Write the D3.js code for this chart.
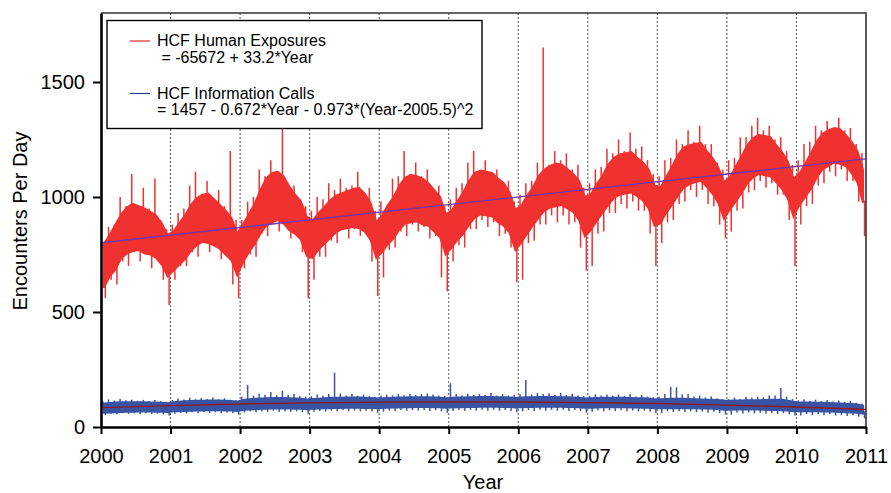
<!DOCTYPE html>
<html>
<head>
<meta charset="utf-8">
<script src="https://cdn.jsdelivr.net/npm/d3@7"></script>
<style>
  body { margin: 0; background: #fff; }
  svg { font-family: "Liberation Sans", Arial, sans-serif; }
</style>
</head>
<body>
<svg id="chart" width="891" height="493"></svg>
<script>
// monthly envelopes, one row per year 2000..2010
var redCoreLo = [
  [605, 655, 685, 735, 755, 765, 770, 755, 750, 735, 705, 655],
  [680, 705, 730, 765, 790, 805, 800, 790, 775, 750, 725, 660],
  [715, 760, 795, 840, 875, 890, 900, 885, 855, 840, 815, 745],
  [735, 770, 795, 820, 845, 860, 865, 870, 865, 850, 815, 735],
  [760, 795, 820, 860, 885, 890, 895, 880, 875, 850, 825, 750],
  [780, 815, 840, 880, 910, 925, 920, 915, 890, 875, 845, 770],
  [800, 840, 875, 910, 940, 955, 960, 965, 950, 935, 900, 830],
  [855, 895, 930, 965, 995, 1010, 1015, 1020, 1005, 985, 950, 875],
  [885, 930, 965, 1005, 1040, 1055, 1065, 1070, 1045, 1015, 975, 905],
  [945, 980, 1015, 1060, 1085, 1100, 1095, 1090, 1065, 1035, 995, 915],
  [965, 1000, 1035, 1085, 1120, 1135, 1150, 1145, 1135, 1105, 1065, 975]
];
var redCoreHi = [
  [795, 835, 880, 925, 955, 970, 960, 950, 935, 920, 885, 835],
  [850, 885, 920, 965, 995, 1010, 1015, 990, 965, 940, 910, 840],
  [880, 925, 970, 1030, 1080, 1105, 1110, 1090, 1045, 1010, 980, 915],
  [895, 930, 955, 985, 1005, 1015, 1025, 1035, 1040, 1015, 975, 890],
  [920, 965, 1000, 1050, 1085, 1095, 1090, 1080, 1060, 1030, 1000, 925],
  [940, 980, 1020, 1070, 1105, 1115, 1110, 1105, 1080, 1060, 1020, 945],
  [960, 1005, 1040, 1090, 1120, 1135, 1145, 1140, 1120, 1100, 1070, 1000],
  [1010, 1055, 1090, 1140, 1170, 1185, 1190, 1195, 1170, 1150, 1120, 1050],
  [1040, 1085, 1130, 1180, 1215, 1225, 1230, 1235, 1200, 1170, 1130, 1065],
  [1085, 1130, 1175, 1225, 1255, 1270, 1265, 1260, 1225, 1195, 1155, 1080],
  [1100, 1145, 1190, 1240, 1275, 1290, 1300, 1295, 1270, 1240, 1200, 1120]
];
var redOuterLo = [
  [560, 640, 620, 720, 700, 760, 720, 750, 690, 730, 640, 530],
  [640, 700, 700, 760, 740, 800, 760, 790, 730, 740, 620, 560],
  [690, 750, 740, 840, 830, 890, 850, 880, 820, 840, 760, 560],
  [640, 740, 740, 810, 800, 860, 820, 860, 830, 840, 720, 570],
  [650, 770, 780, 850, 830, 880, 850, 870, 820, 830, 650, 590],
  [720, 790, 780, 860, 860, 900, 870, 890, 830, 840, 780, 630],
  [640, 800, 810, 880, 880, 920, 890, 920, 880, 890, 780, 680],
  [700, 840, 850, 930, 930, 970, 950, 980, 940, 940, 840, 700],
  [800, 890, 900, 970, 980, 1030, 1000, 1030, 970, 960, 880, 820],
  [850, 940, 950, 1020, 1030, 1070, 1040, 1060, 1010, 1010, 900, 700],
  [880, 960, 970, 1050, 1060, 1110, 1090, 1120, 1070, 1070, 980, 830]
];
var redOuterHi = [
  [790, 870, 880, 1000, 960, 1100, 960, 1040, 950, 1080, 900, 860],
  [880, 930, 950, 1050, 1110, 1000, 1070, 990, 1030, 960, 1200, 900],
  [900, 980, 1000, 1120, 1090, 1160, 1080, 1300, 1060, 1050, 990, 960],
  [940, 1000, 990, 1060, 1030, 1080, 1040, 1050, 1110, 1020, 1040, 940],
  [980, 960, 1080, 1090, 1200, 1100, 1150, 1090, 1120, 1030, 1050, 960],
  [990, 1040, 1060, 1150, 1200, 1110, 1160, 1100, 1120, 1060, 1070, 980],
  [1010, 1060, 1070, 1150, 1650, 1140, 1200, 1160, 1190, 1120, 1140, 1040],
  [1060, 1120, 1130, 1210, 1190, 1250, 1200, 1280, 1210, 1220, 1160, 1100],
  [1090, 1160, 1170, 1250, 1230, 1290, 1240, 1310, 1230, 1230, 1150, 1120],
  [1160, 1170, 1260, 1260, 1310, 1345, 1290, 1310, 1250, 1260, 1200, 1140],
  [1160, 1230, 1240, 1310, 1290, 1330, 1300, 1345, 1290, 1300, 1230, 1190]
];

var blueCoreLo = [
  [62, 63, 64, 65, 66, 66, 67, 67, 67, 66, 66, 65],
  [68, 69, 70, 71, 72, 72, 73, 73, 73, 72, 72, 70],
  [74, 76, 77, 78, 79, 80, 80, 80, 80, 79, 79, 77],
  [79, 80, 81, 82, 83, 83, 84, 84, 84, 83, 83, 82],
  [83, 84, 85, 85, 86, 86, 87, 87, 87, 86, 86, 84],
  [85, 86, 86, 87, 87, 88, 88, 88, 88, 87, 87, 85],
  [86, 87, 87, 88, 88, 88, 88, 88, 87, 87, 86, 84],
  [84, 85, 86, 86, 86, 86, 86, 85, 85, 84, 84, 81],
  [81, 82, 82, 82, 82, 82, 81, 80, 80, 79, 78, 75],
  [75, 76, 76, 76, 76, 76, 75, 74, 74, 73, 72, 69],
  [68, 68, 68, 68, 67, 67, 66, 65, 64, 63, 62, 58]
];
var blueCoreHi = [
  [102, 104, 106, 108, 108, 108, 108, 108, 107, 106, 105, 103],
  [108, 110, 112, 113, 114, 114, 115, 115, 115, 114, 113, 110],
  [118, 121, 123, 124, 125, 126, 126, 126, 125, 124, 123, 120],
  [122, 123, 125, 126, 127, 127, 128, 128, 128, 127, 126, 124],
  [125, 126, 127, 128, 128, 129, 129, 129, 129, 128, 127, 125],
  [127, 128, 128, 129, 129, 130, 130, 130, 129, 129, 128, 126],
  [128, 129, 129, 130, 130, 130, 130, 129, 129, 128, 127, 124],
  [125, 126, 127, 127, 127, 127, 127, 126, 125, 125, 124, 121],
  [121, 122, 123, 123, 123, 122, 121, 120, 119, 118, 117, 114],
  [114, 115, 115, 116, 116, 116, 117, 118, 119, 118, 114, 110],
  [106, 106, 106, 105, 105, 104, 103, 102, 101, 100, 98, 92]
];
var blueOuterLo = [
  [52, 58, 55, 60, 57, 59, 55, 60, 57, 58, 55, 50],
  [58, 62, 59, 64, 60, 65, 61, 64, 60, 63, 60, 54],
  [63, 67, 64, 69, 66, 70, 65, 69, 66, 68, 64, 58],
  [66, 70, 67, 72, 68, 73, 69, 72, 68, 71, 67, 62],
  [66, 72, 69, 74, 70, 74, 71, 74, 70, 73, 68, 62],
  [70, 74, 70, 75, 71, 75, 71, 75, 71, 74, 70, 64],
  [68, 74, 70, 75, 71, 75, 71, 75, 70, 74, 69, 62],
  [66, 72, 69, 73, 69, 73, 69, 72, 68, 71, 66, 60],
  [60, 68, 65, 69, 65, 68, 64, 67, 62, 66, 60, 54],
  [54, 62, 59, 63, 59, 62, 58, 61, 57, 60, 55, 50],
  [50, 56, 52, 56, 51, 55, 50, 53, 48, 51, 45, 38]
];
var blueOuterHi = [
  [112, 120, 115, 122, 116, 119, 114, 118, 113, 117, 112, 110],
  [118, 124, 120, 127, 121, 126, 122, 128, 121, 125, 119, 117],
  [132, 183, 136, 145, 140, 152, 138, 158, 140, 143, 134, 132],
  [134, 141, 136, 144, 236, 145, 137, 145, 136, 141, 134, 132],
  [136, 141, 137, 143, 138, 144, 139, 143, 146, 141, 137, 135],
  [190, 143, 137, 145, 139, 143, 139, 148, 137, 143, 137, 140],
  [142, 204, 141, 148, 143, 147, 139, 148, 139, 145, 137, 135],
  [135, 142, 137, 141, 136, 141, 135, 143, 133, 139, 132, 130],
  [132, 143, 175, 172, 142, 143, 133, 137, 129, 133, 125, 122],
  [121, 128, 122, 131, 127, 131, 129, 137, 137, 170, 132, 122],
  [115, 121, 113, 119, 112, 117, 111, 115, 109, 113, 105, 102]
];

// fitted trend lines
var redTrendYears = [2000, 2011];
var redTrendValues = [801, 1166];
var blueTrendYears = [2000, 2001, 2002, 2003, 2004, 2005, 2006, 2007, 2008, 2009, 2010, 2011];
var blueTrendValues = [84, 93, 100, 105, 108, 109, 109, 106, 102, 95, 87, 76];

var yearTicks = [2000, 2001, 2002, 2003, 2004, 2005, 2006, 2007, 2008, 2009, 2010, 2011];
var countTicks = [0, 500, 1000, 1500];

var legendItems = [
  {color: '#e8282a', name: 'HCF Human Exposures', eq: ' = -65672 + 33.2*Year'},
  {color: '#2e3e8e', name: 'HCF Information Calls', eq: '= 1457 - 0.672*Year - 0.973*(Year-2005.5)^2'}
];

var svg = d3.select('#chart');
var x = d3.scaleLinear().domain([2000, 2011]).range([101, 866]);
var y = d3.scaleLinear().domain([0, 1800]).range([427, 13]);

// dotted year lines
svg.append('g')
  .selectAll('line')
  .data(yearTicks.slice(1, -1))
  .enter()
  .append('line')
  .attr('x1', d => x(d))
  .attr('x2', d => x(d))
  .attr('y1', y(1800))
  .attr('y2', y(0))
  .style('stroke', '#555')
  .style('stroke-width', 1)
  .style('stroke-dasharray', '2,2');

function drawSeries(coreLo, coreHi, outerLo, outerHi, color) {
  var lo = d3.merge(coreLo), hi = d3.merge(coreHi);
  var olo = d3.merge(outerLo), ohi = d3.merge(outerHi);
  var core = lo.map((v, i) => ({t: 2000 + (i + 0.5) / 12, lo: v, hi: hi[i]}));
  // one needle up and one down per month, from the dense band out to the extreme
  var needles = [];
  lo.forEach((v, i) => {
    needles.push({t: 2000 + (i + 0.3) / 12, a: hi[i] - 10, b: ohi[i]});
    needles.push({t: 2000 + (i + 0.75) / 12, a: v + 10, b: olo[i]});
  });
  svg.append('path')
    .datum(core)
    .attr('d', d3.area().x(d => x(d.t)).y0(d => y(d.lo)).y1(d => y(d.hi)))
    .style('fill', color)
    .style('stroke', color)
    .style('stroke-width', 2);
  svg.append('g')
    .selectAll('line')
    .data(needles)
    .enter()
    .append('line')
    .attr('x1', d => x(d.t))
    .attr('x2', d => x(d.t))
    .attr('y1', d => y(d.a))
    .attr('y2', d => y(d.b))
    .style('stroke', color)
    .style('stroke-width', 1.5);
}

drawSeries(redCoreLo, redCoreHi, redOuterLo, redOuterHi, '#ef3130');
drawSeries(blueCoreLo, blueCoreHi, blueOuterLo, blueOuterHi, '#3a54a4');

svg.append('path')
  .datum(redTrendYears.map((t, i) => [t, redTrendValues[i]]))
  .attr('d', d3.line().x(d => x(d[0])).y(d => y(d[1])))
  .style('fill', 'none')
  .style('stroke', '#7a35a8')
  .style('stroke-width', 1.3);

svg.append('path')
  .datum(blueTrendYears.map((t, i) => [t, blueTrendValues[i]]))
  .attr('d', d3.line().curve(d3.curveMonotoneX).x(d => x(d[0])).y(d => y(d[1])))
  .style('fill', 'none')
  .style('stroke', '#8e1a1a')
  .style('stroke-width', 1.4);

// frame top / right
svg.append('path')
  .attr('d', `M${x(2000)},${y(1800)}H${x(2011)}V${y(0)}`)
  .style('fill', 'none')
  .style('stroke', '#333')
  .style('stroke-width', 1.6);

var yAxis = svg.append('g')
  .attr('transform', `translate(${x(2000)},0)`)
  .call(d3.axisLeft(y).tickValues(countTicks).tickFormat(d3.format('d')).tickSize(8).tickPadding(8).tickSizeOuter(0));
var xAxis = svg.append('g')
  .attr('transform', `translate(0,${y(0)})`)
  .call(d3.axisBottom(x).tickValues(yearTicks).tickFormat(d3.format('d')).tickSize(7).tickPadding(15).tickSizeOuter(0));
[yAxis, xAxis].forEach(g => {
  g.select('.domain').style('stroke', '#000').style('stroke-width', 2.6);
  g.selectAll('.tick line').style('stroke', '#000').style('stroke-width', 2);
  g.selectAll('text').style('font-size', '20px').style('fill', '#000')
    .style('font-family', '"Liberation Sans", Arial, sans-serif');
});

svg.append('text')
  .attr('x', 483)
  .attr('y', 488.5)
  .attr('text-anchor', 'middle')
  .style('font-size', '20px')
  .text('Year');

svg.append('text')
  .attr('transform', 'translate(27,221) rotate(-90)')
  .attr('text-anchor', 'middle')
  .style('font-size', '20px')
  .text('Encounters Per Day');

// legend
var legend = svg.append('g');
legend.append('rect')
  .attr('x', 107)
  .attr('y', 20.5)
  .attr('width', 375)
  .attr('height', 108)
  .style('fill', '#fff')
  .style('stroke', '#000')
  .style('stroke-width', 1.4);
legendItems.forEach((d, i) => {
  var top = 41 + i * 52.5;
  legend.append('line')
    .attr('x1', 130).attr('x2', 150)
    .attr('y1', top).attr('y2', top)
    .style('stroke', d.color)
    .style('stroke-width', 1.2);
  legend.append('text')
    .attr('x', 157).attr('y', top + 5)
    .style('font-size', '16px')
    .text(d.name);
  legend.append('text')
    .attr('x', 157).attr('y', top + 21.5)
    .style('font-size', '16px')
    .attr('xml:space', 'preserve')
    .text(d.eq);
});
</script>
</body>
</html>
